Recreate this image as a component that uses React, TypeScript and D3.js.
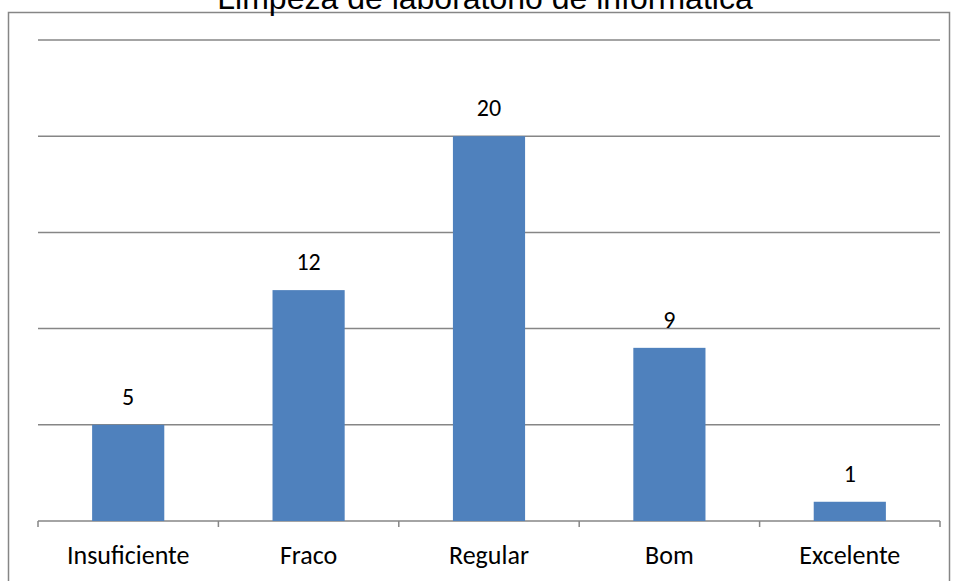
import { scaleBand, scaleLinear } from "d3";

const categories = ["Insuficiente", "Fraco", "Regular", "Bom", "Excelente"];
const values = [5, 12, 20, 9, 1];
const gridTicks = [0, 5, 10, 15, 20, 25];
const title = "Limpeza de laboratório de  informática";

export default function App() {
  const width = 956;
  const height = 581;
  const left = 38;
  const right = 940;
  const top = 40;
  const bottom = 521;

  const x = scaleBand<string>().domain(categories).range([left, right]).paddingInner(0.6).paddingOuter(0.3);
  const step = (right - left) / categories.length;
  const y = scaleLinear().domain([0, 25]).range([bottom, top]);

  const labelFont = "Carlito, Calibri, Lato, 'Open Sans', sans-serif";

  return (
    <svg
      width={width}
      height={height}
      style={{ position: "fixed", left: 0, top: 0, background: "#fff" }}
    >
      <rect x={8.5} y={12.5} width={941} height={600} fill="#fff" stroke="#868686" strokeWidth={1.5} />
      <text
        x={485}
        y={9}
        textAnchor="middle"
        fontFamily="'Liberation Sans', Arial, sans-serif"
        fontSize={32}
        fill="#000"
      >
        {title}
      </text>

      {gridTicks.slice(1).map((t) => (
        <line key={t} x1={left} x2={right} y1={y(t)} y2={y(t)} stroke="#868686" strokeWidth={1.5} />
      ))}

      <line x1={left} x2={right} y1={bottom} y2={bottom} stroke="#868686" strokeWidth={1.5} />
      {categories.map((_, i) => (
        <line
          key={i}
          x1={left + step * i}
          x2={left + step * i}
          y1={bottom}
          y2={bottom + 6}
          stroke="#868686"
          strokeWidth={1.5}
        />
      ))}
      <line x1={right} x2={right} y1={bottom} y2={bottom + 6} stroke="#868686" strokeWidth={1.5} />

      {categories.map((c, i) => (
        <g key={c}>
          <rect x={x(c)} y={y(values[i])} width={x.bandwidth()} height={bottom - y(values[i])} fill="#4F81BD" />
          <text
            x={(x(c) ?? 0) + x.bandwidth() / 2}
            y={y(values[i]) - 20}
            textAnchor="middle"
            fontFamily={labelFont}
            fontSize={24}
            fill="#000"
          >
            {values[i]}
          </text>
          <text
            x={(x(c) ?? 0) + x.bandwidth() / 2}
            y={564}
            textAnchor="middle"
            fontFamily={labelFont}
            fontSize={26}
            fill="#000"
          >
            {c}
          </text>
        </g>
      ))}
    </svg>
  );
}
